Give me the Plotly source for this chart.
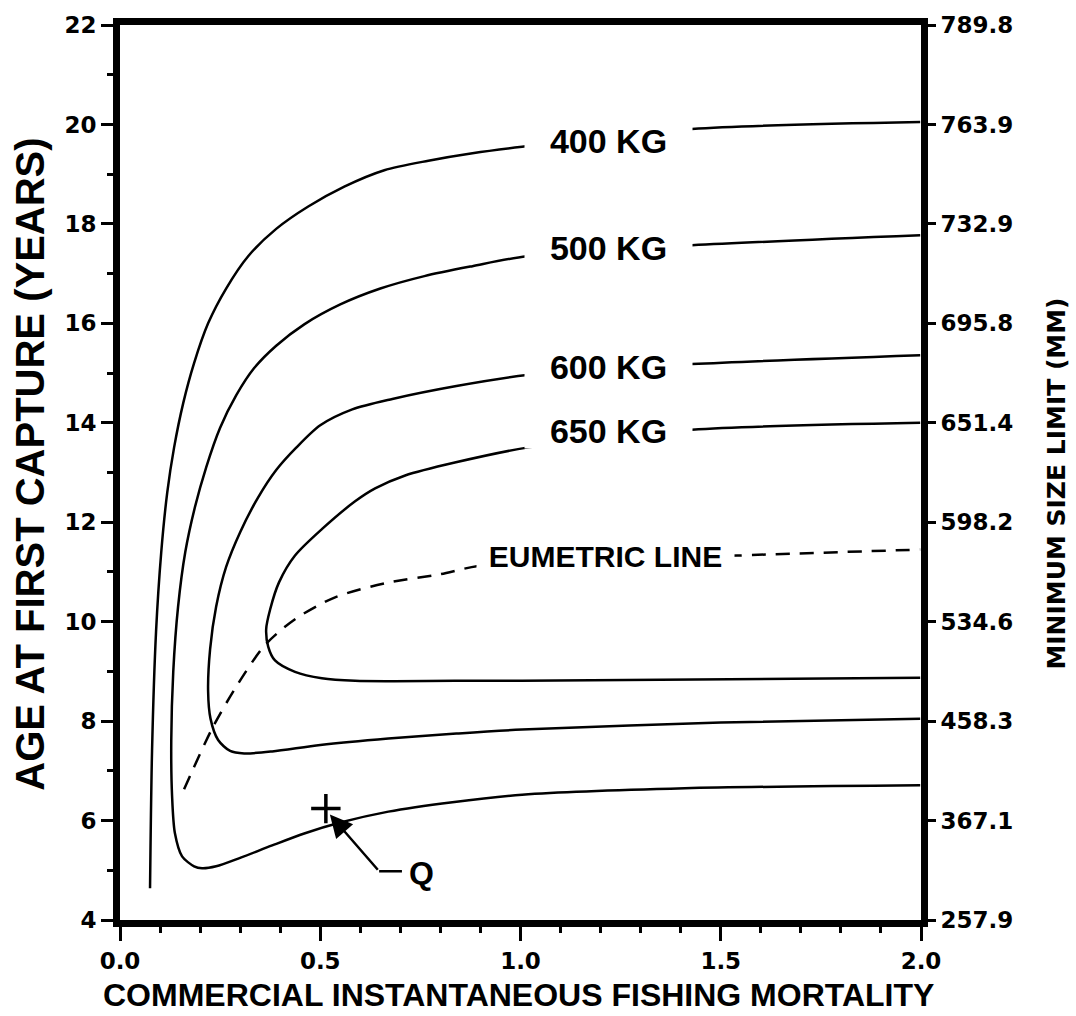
import plotly.graph_objects as go

# ---- data (x: commercial instantaneous fishing mortality, y: age at first capture, years) ----
kg400_x = [0.075, 0.080, 0.090, 0.103, 0.118, 0.135, 0.158, 0.185, 0.220, 0.265, 0.320, 0.390,
           0.470, 0.560, 0.660, 0.770, 0.880, 1.004, 1.428, 1.998]
kg400_y = [4.64, 7.40, 9.80, 11.40, 12.60, 13.50, 14.40, 15.20, 16.00, 16.70, 17.35, 17.90,
           18.35, 18.75, 19.08, 19.27, 19.42, 19.55, 19.91, 20.05]

kg500_x = [1.998, 1.428, 1.016, 0.880, 0.760, 0.650, 0.550, 0.460, 0.390, 0.335, 0.290, 0.250,
           0.215, 0.187, 0.163, 0.145, 0.133, 0.128, 0.130, 0.137, 0.155, 0.185, 0.205, 0.240,
           0.300, 0.380, 0.460, 0.550, 0.670, 0.830, 1.004, 1.410, 1.998]
kg500_y = [17.77, 17.57, 17.35, 17.15, 16.95, 16.70, 16.38, 15.98, 15.55, 15.10, 14.55, 13.90,
           13.10, 12.30, 11.40, 10.30, 9.00, 7.60, 6.50, 5.75, 5.28, 5.08, 5.04, 5.08,
           5.25, 5.50, 5.74, 5.96, 6.18, 6.37, 6.52, 6.65, 6.71]

kg600_x = [1.998, 1.428, 1.016, 0.840, 0.680, 0.580, 0.500, 0.440, 0.390, 0.345, 0.300, 0.265,
           0.240, 0.225, 0.220, 0.226, 0.245, 0.275, 0.310, 0.380, 0.500, 0.670, 0.840, 1.004,
           1.500, 1.998]
kg600_y = [15.36, 15.18, 14.96, 14.74, 14.48, 14.27, 13.95, 13.50, 13.05, 12.50, 11.80, 11.10,
           10.30, 9.45, 8.60, 8.05, 7.62, 7.40, 7.35, 7.39, 7.52, 7.65, 7.75, 7.83,
           7.97, 8.05]

kg650_x = [1.998, 1.428, 1.016, 0.836, 0.712, 0.637, 0.587, 0.504, 0.437, 0.397, 0.375, 0.365,
           0.370, 0.387, 0.437, 0.504, 0.587, 0.836, 1.004, 1.998]
kg650_y = [14.00, 13.86, 13.50, 13.20, 12.94, 12.68, 12.42, 11.86, 11.33, 10.79, 10.25, 9.85,
           9.50, 9.22, 8.99, 8.86, 8.81, 8.81, 8.81, 8.87]

eumetric_x = [0.160, 0.230, 0.287, 0.362, 0.437, 0.537, 0.672, 0.797, 0.904, 1.541, 1.998]
eumetric_y = [6.63, 7.85, 8.65, 9.53, 10.05, 10.49, 10.79, 10.95, 11.13, 11.33, 11.45]

curve_labels = ["400 KG", "500 KG", "600 KG", "650 KG"]
label_x = [1.22, 1.22, 1.22, 1.22]
label_y = [19.66, 17.52, 15.12, 13.84]

eumetric_label = "EUMETRIC LINE"
eumetric_label_x = 1.213
eumetric_label_y = 11.33

q_point_x = [0.514]
q_point_y = [6.24]
q_arrow_tip = (0.524, 6.12)
q_arrow_elbow = (0.647, 4.98)
q_leader_end = (0.704, 4.98)
q_label_pos = (0.754, 4.94)

x_ticks = [0.0, 0.5, 1.0, 1.5, 2.0]
age_ticks = [4, 6, 8, 10, 12, 14, 16, 18, 20, 22]
mm_labels = ["257.9", "367.1", "458.3", "534.6", "598.2", "651.4", "695.8", "732.9", "763.9", "789.8"]

# ---- figure ----
fig = go.Figure()
line_style = dict(color="black", width=2.5, shape="spline", smoothing=0.8)
for xs, ys in [(kg400_x, kg400_y), (kg500_x, kg500_y), (kg600_x, kg600_y), (kg650_x, kg650_y)]:
    fig.add_trace(go.Scatter(x=xs, y=ys, mode="lines", line=line_style, hoverinfo="skip"))

fig.add_trace(go.Scatter(x=eumetric_x, y=eumetric_y, mode="lines",
                         line=dict(color="black", width=2.5, dash="14px,10px", shape="spline", smoothing=0.8),
                         hoverinfo="skip"))

# Q leader line (horizontal part + elbow)
fig.add_trace(go.Scatter(x=[q_leader_end[0], q_arrow_elbow[0]], y=[q_leader_end[1], q_arrow_elbow[1]],
                         mode="lines", line=dict(color="black", width=2.5), hoverinfo="skip"))

# + marker (on the right axis so that axis is drawn)
fig.add_trace(go.Scatter(x=q_point_x, y=q_point_y, mode="markers", yaxis="y2",
                         marker=dict(symbol="cross-thin", size=21, line=dict(color="black", width=3.5)),
                         hoverinfo="skip"))

label_font = dict(family="Liberation Sans", size=34, color="black", weight="bold")
for t, lx, ly in zip(curve_labels, label_x, label_y):
    fig.add_annotation(x=lx, y=ly, text=t, showarrow=False, font=label_font, bgcolor="white",
                       width=165, height=32, xanchor="center", yanchor="middle")
fig.add_annotation(x=eumetric_label_x, y=eumetric_label_y, text=eumetric_label, showarrow=False,
                   font=dict(family="Liberation Sans", size=30, color="black", weight="bold"),
                   bgcolor="white", width=255, height=30, xanchor="center", yanchor="middle")

# Q arrow
fig.add_annotation(x=q_arrow_tip[0], y=q_arrow_tip[1], ax=q_arrow_elbow[0], ay=q_arrow_elbow[1],
                   axref="x", ayref="y", xref="x", yref="y", text="", showarrow=True,
                   arrowhead=2, arrowsize=1.8, arrowwidth=2.5, arrowcolor="black")
fig.add_annotation(x=q_label_pos[0], y=q_label_pos[1], text="Q", showarrow=False,
                   font=dict(family="Liberation Sans", size=32, color="black", weight="bold"),
                   xanchor="center", yanchor="middle")

# axis titles
fig.add_annotation(xref="paper", yref="paper", x=0.497, y=-0.084,
                   text="COMMERCIAL INSTANTANEOUS FISHING MORTALITY", showarrow=False,
                   font=dict(family="Liberation Sans", size=32, color="black", weight="bold"),
                   xanchor="center", yanchor="middle")
fig.add_annotation(xref="paper", yref="paper", x=-0.112, y=0.509, textangle=-90,
                   text="AGE AT FIRST CAPTURE (YEARS)", showarrow=False,
                   font=dict(family="Liberation Sans", size=40, color="black", weight="bold"),
                   xanchor="center", yanchor="middle")
fig.add_annotation(xref="paper", yref="paper", x=1.169, y=0.488, textangle=-90,
                   text="MINIMUM SIZE LIMIT (MM)", showarrow=False,
                   font=dict(family="DejaVu Sans", size=25, color="black", weight="bold"),
                   xanchor="center", yanchor="middle")

tick_font = dict(family="DejaVu Sans", size=23, color="black", weight="bold")
fig.update_layout(
    width=1076, height=1016,
    margin=dict(l=120, r=155, t=21, b=96),
    plot_bgcolor="white", paper_bgcolor="white",
    showlegend=False,
    xaxis=dict(range=[0, 2], tickvals=x_ticks, tickformat=".1f", ticks="outside", ticklen=14,
               tickwidth=3, tickcolor="black", showline=True, linewidth=7, linecolor="black",
               mirror=True, showgrid=False, zeroline=False, tickfont=tick_font,
               minor=dict(dtick=0.1, tick0=0, ticks="outside", ticklen=6, tickwidth=2.5,
                          tickcolor="black", showgrid=False)),
    yaxis=dict(range=[4, 22], tickvals=age_ticks, ticks="outside", ticklen=12, tickwidth=3,
               tickcolor="black", showline=True, linewidth=7, linecolor="black", mirror=True,
               showgrid=False, zeroline=False, tickfont=tick_font,
               minor=dict(dtick=1, tick0=0, ticks="outside", ticklen=6, tickwidth=2.5,
                          tickcolor="black", showgrid=False)),
    yaxis2=dict(range=[4, 22], overlaying="y", side="right", tickvals=age_ticks, ticktext=mm_labels,
                ticks="outside", ticklen=9, tickwidth=3, tickcolor="black", showline=True,
                linewidth=6, linecolor="black", showgrid=False, zeroline=False, tickfont=tick_font),
)

fig.write_html("out.html")
